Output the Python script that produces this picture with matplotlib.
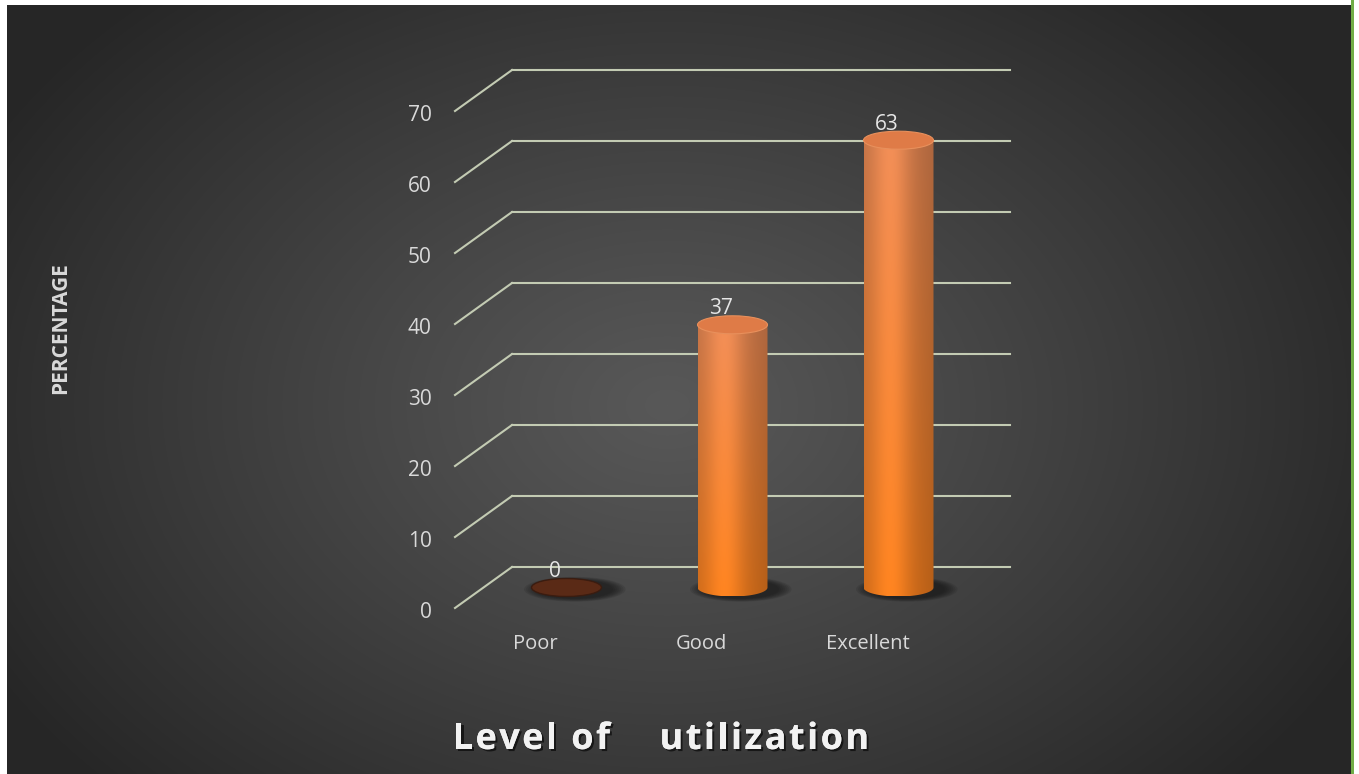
import numpy as np
import matplotlib.pyplot as plt
from matplotlib.patches import Ellipse, Polygon, Rectangle
from matplotlib.font_manager import FontProperties
import matplotlib.patheffects as pe
from matplotlib.colors import to_rgb

# =========================
# data
# =========================
categories = ["Poor", "Good", "Excellent"]
values = [0, 37, 63]
yticks = [0, 10, 20, 30, 40, 50, 60, 70]

plt.rcParams['font.family'] = ['Open Sans', 'DejaVu Sans']

W, H = 1359, 774
fig = plt.figure(figsize=(W / 100, H / 100), dpi=100, facecolor='white')

# =========================
# background (radial gradient)
# =========================
left_px, right_px, top_px = 7, 1351, 5
bg = fig.add_axes([left_px / W, 0, (right_px - left_px) / W, (H - top_px) / H])
bg.set_axis_off()
gx, gy = np.meshgrid(np.arange(right_px - left_px), np.arange(H - top_px))
r = np.sqrt(((gx - 660) / 780.0) ** 2 + ((gy - 400) / 560.0) ** 2)
shade = (0x58 - (0x58 - 0x26) * np.clip(r, 0, 1) ** 1.1) / 255.0
bg.imshow(np.dstack([shade] * 3), aspect='auto', interpolation='bilinear')
fig.add_artist(Rectangle((right_px / W, 0), 2.5 / W, 1, transform=fig.transFigure,
                         facecolor='#70ad47', edgecolor='none'))

# =========================
# main axes (category units x, percent units y)
# =========================
px_per_cat, x0_px = 166.0, 538.0
px_per_unit, y0_row = 7.1, 608.0
ax = fig.add_axes([0, 0, 1, 1], facecolor='none')
ax.set_axis_off()

dx = 57 / px_per_cat        # depth offset
dy = 41 / px_per_unit
grid_col = '#c3cbb3'
x_lo, x_hi = -0.5, len(categories) - 0.5

for t in yticks:
    ax.plot([x_lo, x_lo + dx], [t, t + dy], color=grid_col, lw=1.5, zorder=1)
    ax.plot([x_lo + dx, x_hi + dx], [t + dy, t + dy], color=grid_col, lw=1.5, zorder=1)
    ax.text(x_lo - 0.14, t - 0.6, str(t), ha='right', va='center', fontsize=15, color='#d9d9d9')

for i, c in enumerate(categories):
    ax.text(i - 0.015, -5.1, c, ha='center', va='center', fontsize=14.5, color='#d9d9d9')

# =========================
# cylinders
# =========================
bw = 70 / px_per_cat
eh = 18 / px_per_unit
base = dy / 2


def shadow(cx, y):
    for k in range(7):
        s = 1.45 - k * 0.06
        ax.add_patch(Ellipse((cx + 0.05, y - 0.25), bw * s, eh * (s * 0.95),
                             facecolor='#141414', edgecolor='none', alpha=0.13, zorder=2))


def cylinder(cx, v):
    top = base + v
    shadow(cx, base)
    if v == 0:
        ax.add_patch(Ellipse((cx, base), bw, eh, facecolor='#5a2a16',
                             edgecolor='#3a1c10', lw=1, zorder=3))
        return
    th = np.linspace(np.pi, 2 * np.pi, 80)
    verts = [(cx - bw / 2, top)] + list(zip(cx + bw / 2 * np.cos(th), base + eh / 2 * np.sin(th))) \
        + [(cx + bw / 2, top)]
    clip = Polygon(verts, closed=True, facecolor='none', edgecolor='none')
    ax.add_patch(clip)
    # horizontal shading x vertical colour blend
    hx = np.linspace(0, 1, 120)
    hshade = 0.82 + 0.22 * np.exp(-((hx - 0.38) / 0.28) ** 2) - 0.08 * hx ** 3
    vy = np.linspace(0, 1, 200)[:, None]
    c_bot, c_top = np.array(to_rgb('#f7801f')), np.array(to_rgb('#ea8a55'))
    col = c_bot[None, None, :] * (1 - vy[..., None]) + c_top[None, None, :] * vy[..., None]
    img = np.clip(col * hshade[None, :, None], 0, 1)
    im = ax.imshow(img, extent=[cx - bw / 2, cx + bw / 2, base - eh / 2, top],
                   origin='lower', aspect='auto', interpolation='bilinear', zorder=3)
    im.set_clip_path(clip)
    ax.add_patch(Ellipse((cx, top), bw, eh, facecolor='#df7b47', edgecolor='#e8905c',
                         lw=0.8, zorder=4))


for i, v in enumerate(values):
    cx = i + dx / 2
    cylinder(cx, v)
    ax.text(cx - 0.07, base + v + 0.75, str(v), ha='center', va='bottom', fontsize=15,
            color='#e6e6e6', zorder=5)

ax.set_xlim(-x0_px / px_per_cat, (W - x0_px) / px_per_cat)
ax.set_ylim(-(H - y0_row) / px_per_unit, y0_row / px_per_unit)

# =========================
# titles
# =========================
renderer = fig.canvas.get_renderer()


def spaced_text(s, cx_px, baseline_row, spacing, **kw):
    fp = FontProperties(family=['Open Sans', 'DejaVu Sans'], size=kw['fontsize'],
                        weight=kw.get('fontweight', 'normal'))
    widths = [renderer.get_text_width_height_descent(ch, fp, ismath=False)[0] for ch in s]
    total = sum(widths) + spacing * (len(s) - 1)
    x = cx_px - total / 2
    for ch, w in zip(s, widths):
        if ch != ' ':
            fig.text(x / W, 1 - baseline_row / H, ch, ha='left', va='baseline', **kw)
        x += w + spacing


spaced_text("Level of    utilization", 661, 749, 2.4, fontsize=26, fontweight='bold',
            color='#f2f2f2',
            path_effects=[pe.withSimplePatchShadow(offset=(1.5, -1.5), shadow_rgbFace='black', alpha=0.6),
                          pe.Normal()])
fig.text(61 / W, 1 - 328 / H, "PERCENTAGE", rotation=90, ha='center', va='center',
         fontsize=15, fontweight='bold', color='#d9d9d9')

fig.savefig("out.png", dpi=100, facecolor='white')
